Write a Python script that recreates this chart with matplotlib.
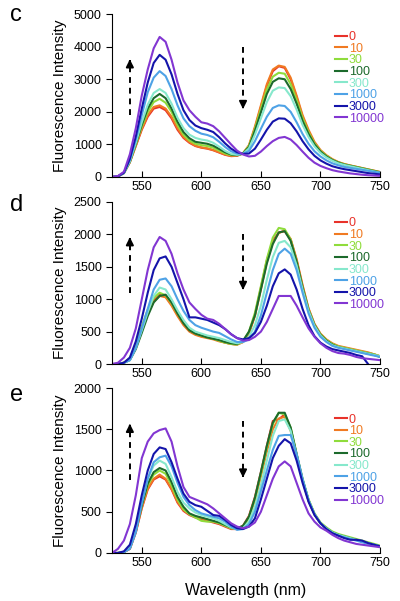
import numpy as np
import matplotlib
matplotlib.use("Agg")
import matplotlib.pyplot as plt

plt.rcParams['font.family'] = ['Liberation Sans', 'DejaVu Sans']

# wavelength grid (nm)
wl = np.arange(525, 751, 5)

labels = ['0', '10', '30', '100', '300', '1000', '3000', '10000']
colors = ['#e8322a', '#f07a22', '#8fdc3c', '#1c6a2c', '#86e8cc', '#4ea2e6', '#1414aa', '#8236d2']

# panel c
c0 = [0,20,120,450,950,1450,1850,2100,2150,2050,1800,1450,1200,1050,950,900,870,820,750,680,640,650,720,950,1500,2150,2800,3250,3400,3350,3000,2450,1850,1400,1050,800,650,530,450,390,350,310,270,230,190,150]
c10 = [0,20,120,460,970,1480,1900,2150,2200,2100,1850,1500,1230,1070,960,910,880,830,760,690,650,660,730,980,1550,2200,2850,3300,3420,3380,3050,2500,1900,1450,1080,830,670,550,460,400,355,315,275,235,195,155]
c30 = [0,20,120,470,1000,1550,2000,2300,2400,2280,2000,1600,1300,1120,1020,980,950,900,810,720,670,670,730,950,1480,2080,2680,3080,3200,3170,2850,2350,1800,1370,1030,800,650,530,450,390,350,310,270,230,190,150]
c100 = [0,20,120,470,1020,1600,2100,2420,2550,2420,2100,1700,1380,1190,1080,1050,1020,960,860,760,690,670,720,920,1420,1980,2550,2920,3030,3000,2700,2250,1720,1320,1000,780,630,520,440,380,340,300,260,220,180,140]
c300 = [0,20,120,480,1050,1680,2220,2580,2700,2580,2250,1820,1500,1300,1200,1150,1120,1050,930,800,710,680,710,880,1300,1800,2300,2650,2750,2730,2480,2070,1600,1230,940,740,600,500,420,370,330,290,250,210,170,130]
c1000 = [0,20,130,520,1150,1900,2600,3050,3250,3100,2700,2200,1800,1560,1420,1330,1290,1220,1080,920,790,720,710,800,1100,1480,1850,2120,2200,2180,2000,1680,1320,1020,790,630,510,420,360,310,280,250,220,190,160,130]
c3000 = [0,20,130,560,1250,2100,2900,3500,3750,3600,3150,2550,2050,1750,1580,1500,1450,1380,1220,1030,870,760,710,720,870,1150,1450,1700,1800,1790,1650,1400,1100,850,650,510,410,330,280,240,210,180,150,120,100,80]
c10000 = [0,30,160,700,1500,2500,3300,3950,4300,4150,3600,2900,2350,2050,1850,1680,1640,1560,1400,1200,1000,810,690,630,650,780,950,1100,1200,1230,1150,980,780,590,440,340,270,210,170,140,110,90,70,55,45,35]

# panel d
d0 = [0,0,20,80,280,550,800,980,1070,1040,920,760,620,510,460,430,410,390,360,330,310,300,340,480,760,1180,1600,1900,2030,2050,1920,1600,1200,850,610,460,370,310,270,250,230,210,190,170,150,120]
d10 = [0,0,20,80,270,530,780,960,1050,1030,900,740,600,500,450,420,400,380,350,330,310,300,340,470,740,1150,1580,1880,2020,2060,1930,1620,1220,860,620,470,380,320,280,260,240,220,200,180,150,120]
d30 = [0,0,20,90,300,580,840,1020,1100,1060,940,780,640,530,470,440,410,390,360,330,310,300,350,500,790,1200,1620,1950,2100,2080,1920,1580,1180,840,600,460,370,310,270,250,230,210,190,170,150,120]
d100 = [0,0,20,60,230,480,740,950,1050,1070,950,780,630,520,470,440,410,390,370,340,320,310,360,500,750,1150,1550,1850,2030,2050,1900,1580,1180,830,600,450,360,300,260,240,220,200,180,160,140,110]
d300 = [0,0,20,60,250,520,800,1050,1180,1150,1000,830,680,560,500,470,440,420,400,370,340,320,340,420,600,900,1300,1650,1870,1900,1800,1520,1150,820,590,440,350,290,260,240,220,200,180,160,140,120]
d1000 = [0,0,20,60,250,550,850,1150,1300,1320,1200,1000,820,680,600,560,530,500,480,430,380,340,340,380,500,750,1100,1450,1700,1780,1700,1450,1100,780,560,420,340,280,250,230,210,190,170,150,130,110]
d3000 = [0,0,20,100,350,700,1100,1450,1630,1660,1500,1250,1000,720,720,700,680,640,600,540,460,400,380,400,480,650,900,1200,1400,1460,1380,1150,850,600,430,330,270,230,210,190,170,140,120,0,np.nan,np.nan]
d10000 = [0,20,100,250,550,1000,1450,1800,1960,1900,1700,1400,1150,950,850,760,700,680,620,540,460,400,360,370,420,500,650,850,1050,1050,1050,900,720,550,420,320,250,200,170,160,140,110,90,80,70,60]

# panel e
e0 = [0,0,10,50,250,540,770,890,930,890,770,610,510,460,430,410,390,370,350,320,290,290,330,450,680,980,1300,1600,1620,1680,1500,1180,880,630,470,360,300,250,220,200,180,160,140,120,100,80]
e10 = [0,0,10,50,250,550,780,900,950,900,780,620,520,470,440,420,400,380,360,330,300,290,320,430,640,930,1230,1500,1630,1650,1480,1180,880,640,470,360,300,250,220,200,180,160,140,120,100,80]
e30 = [0,0,10,60,270,580,820,950,1000,960,820,650,530,470,430,390,380,380,360,330,300,290,320,430,660,960,1280,1560,1700,1680,1520,1200,900,650,480,370,310,260,230,210,190,170,150,130,110,90]
e100 = [0,0,10,60,270,580,840,980,1030,1000,860,680,560,480,450,430,410,390,370,340,310,300,330,440,670,980,1300,1580,1700,1700,1520,1200,890,640,470,360,300,250,220,200,180,160,140,120,100,80]
e300 = [0,0,10,60,280,620,900,1060,1120,1080,920,740,610,540,490,460,440,420,390,350,310,290,300,380,560,820,1120,1420,1600,1620,1480,1180,880,640,470,360,300,250,220,200,180,160,140,120,100,80]
e1000 = [0,0,10,50,250,600,900,1100,1160,1180,1050,850,680,580,520,480,460,440,420,380,320,280,290,350,500,750,1000,1250,1420,1430,1430,1200,900,640,470,360,290,240,210,190,170,150,130,110,100,80]
e3000 = [0,0,20,100,350,700,1000,1200,1280,1260,1100,900,720,620,580,560,510,460,450,400,340,300,290,320,420,650,900,1150,1300,1380,1330,1120,850,620,460,360,290,240,210,180,160,160,150,120,100,80]
e10000 = [0,50,150,350,700,1150,1350,1450,1490,1510,1350,1050,800,680,650,620,590,540,480,420,360,320,300,320,370,500,700,900,1050,1110,1050,850,650,480,380,310,270,220,180,150,130,110,100,90,80,70]

panels = [
    ('c', [c0, c10, c30, c100, c300, c1000, c3000, c10000], 5000, 1000, (1900, 3700), (4000, 2000), 0.895),
    ('d', [d0, d10, d30, d100, d300, d1000, d3000, d10000], 2500, 500, (1100, 2000), (2000, 1100), 0.905),
    ('e', [e0, e10, e30, e100, e300, e1000, e3000, e10000], 2000, 500, (880, 1600), (1600, 880), 0.845),
]

fig = plt.figure(figsize=(4, 6.01), dpi=100)
boxes = [[0.28, 0.7055, 0.67, 0.271],
         [0.28, 0.3943, 0.67, 0.2696],
         [0.28, 0.0799, 0.67, 0.2745]]
letter_y = [15, 205, 395]

for box, ly, (letter, series, ymax, ystep, up, down, legtop) in zip(boxes, letter_y, panels):
    ax = fig.add_axes(box)
    for s, col, lab in zip(series, colors, labels):
        ax.plot(wl, s, color=col, lw=1.5, label=lab)
    ax.set_xlim(525, 750)
    ax.set_ylim(0, ymax)
    ax.set_xticks([550, 600, 650, 700, 750])
    ax.set_yticks(np.arange(0, ymax + 1, ystep))
    ax.spines['top'].set_visible(False)
    ax.spines['right'].set_visible(False)
    ax.tick_params(axis='x', direction='in', length=4, labelsize=9, pad=3)
    ax.tick_params(axis='y', direction='out', length=4, labelsize=9)
    ax.set_ylabel('Fluorescence Intensity', fontsize=11, labelpad=5)

    # dashed arrows
    h = ymax * 0.05
    ax.plot([540, 540], [up[0], up[1] - h], color='k', lw=1.4, ls=(0, (3, 2.5)))
    ax.annotate('', xy=(540, up[1]), xytext=(540, up[1] - h),
                arrowprops=dict(arrowstyle='-|>', color='k', lw=1.4, mutation_scale=11))
    ax.plot([635, 635], [down[0], down[1] + h], color='k', lw=1.4, ls=(0, (3, 2.5)))
    ax.annotate('', xy=(635, down[1]), xytext=(635, down[1] + h),
                arrowprops=dict(arrowstyle='-|>', color='k', lw=1.4, mutation_scale=11))

    ax.legend(loc='upper left', bbox_to_anchor=(0.832, legtop), frameon=False, fontsize=9,
              handlelength=1.0, handletextpad=0.1, labelspacing=-0.03,
              labelcolor='linecolor', borderaxespad=0, borderpad=0)

    fig.text(0.025, 1 - ly / 601, letter, fontsize=17, va='center')

    if letter == 'e':
        ax.set_xlabel('Wavelength (nm)', fontsize=11.5, labelpad=10)

fig.savefig('out.png', dpi=100)
